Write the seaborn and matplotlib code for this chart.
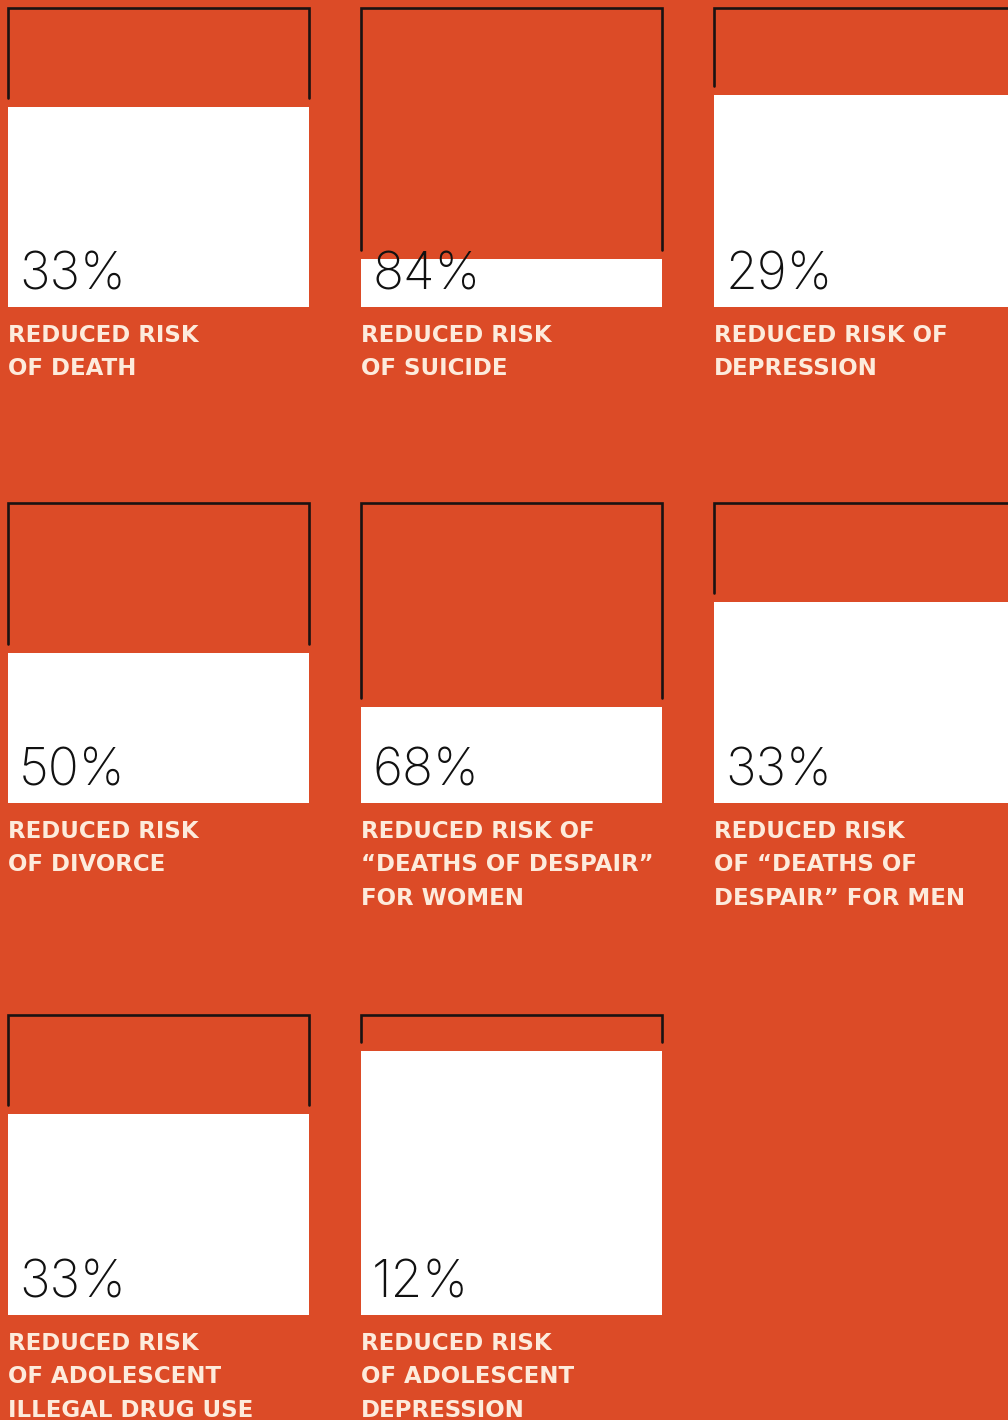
import matplotlib
matplotlib.use("Agg")
import matplotlib.pyplot as plt
import seaborn as sns
import pandas as pd

# datos: porcentaje de reduccion del riesgo y su etiqueta
reductions = [33, 84, 29, 50, 68, 33, 33, 12]
labels = [
    "REDUCED RISK\nOF DEATH",
    "REDUCED RISK\nOF SUICIDE",
    "REDUCED RISK OF\nDEPRESSION",
    "REDUCED RISK\nOF DIVORCE",
    "REDUCED RISK OF\n\u201cDEATHS OF DESPAIR\u201d\nFOR WOMEN",
    "REDUCED RISK\nOF \u201cDEATHS OF\nDESPAIR\u201d FOR MEN",
    "REDUCED RISK\nOF ADOLESCENT\nILLEGAL DRUG USE",
    "REDUCED RISK\nOF ADOLESCENT\nDEPRESSION",
]

df = pd.DataFrame({"reduction": reductions, "label": labels})
df["remaining"] = 100 - df["reduction"]

BG = "#DC4B27"
CREAM = "#FDEBDC"
INK = "#1a1212"

sns.set_theme(style="white")
plt.rcParams["font.family"] = ["Inter", "DejaVu Sans"]

W, H = 1008, 1420
fig = plt.figure(figsize=(W / 100, H / 100), dpi=100, facecolor=BG)

# posiciones de los paneles en pixeles
col_left = [8, 361, 714]
row_top = [8, 503, 1015]
row_bottom = [307, 803, 1315]
panel_w = 301

for i, row in df.iterrows():
    r, c = divmod(i, 3)
    left = col_left[c]
    top = row_top[r]
    bottom = row_bottom[r]
    h = bottom - top
    ax = fig.add_axes([left / W, 1 - bottom / H, panel_w / W, h / H])
    ax.set_facecolor("none")

    # barra blanca = parte restante del riesgo
    sns.barplot(x=[0], y=[row["remaining"]], color="white", width=1.0,
                saturation=1, edgecolor="none", ax=ax)
    ax.set_xlim(-0.5, 0.5)
    ax.set_ylim(0, 100)
    ax.axis("off")

    # corchete que marca el 100%
    gap = 3
    ax.plot([-0.5, -0.5, 0.5, 0.5],
            [row["remaining"] + gap, 100, 100, row["remaining"] + gap],
            color=INK, lw=1.9, solid_joinstyle="miter", clip_on=False)

    ax.text(11 / panel_w, 17 / h, f"{row['reduction']}%", transform=ax.transAxes,
            ha="left", va="baseline", fontsize=37, fontweight="light",
            color="#111111", family=["Inter", "DejaVu Sans"])

    fig.text(left / W, 1 - (bottom + 17) / H, row["label"], ha="left", va="top",
             fontsize=16.5, fontweight="bold", color=CREAM, linespacing=1.58,
             family=["DejaVu Sans"])

fig.savefig("out.png", dpi=100, facecolor=BG)
